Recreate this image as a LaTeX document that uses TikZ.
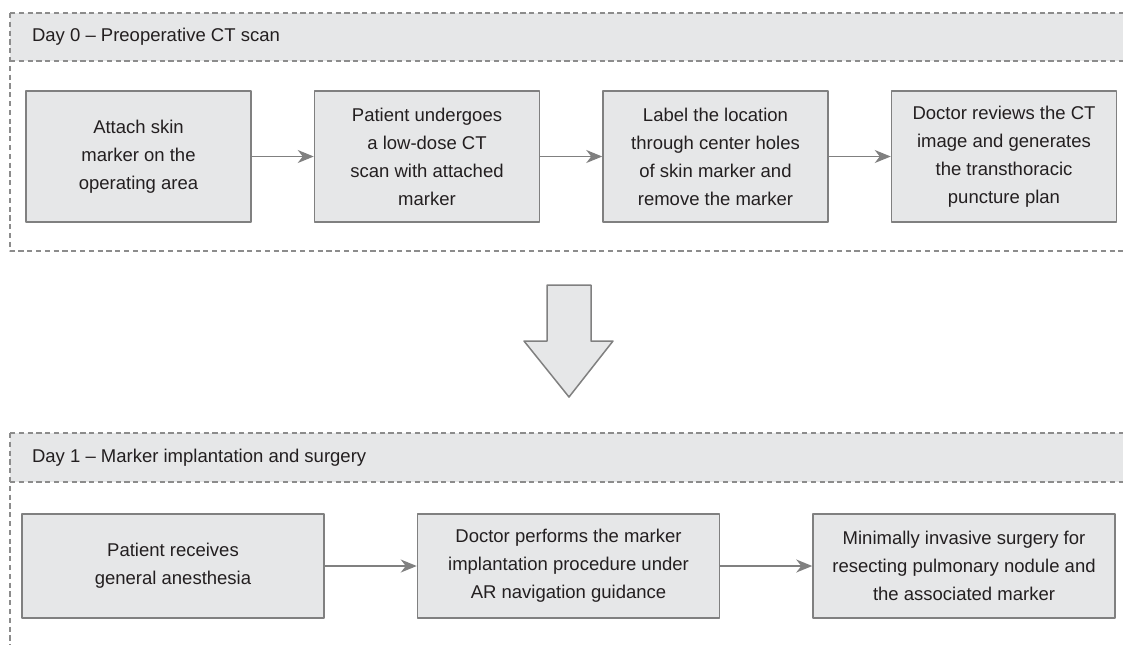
\documentclass[tikz,border=0pt]{standalone}
\usepackage{fontspec}
\setmainfont{Liberation Sans}
\usetikzlibrary{arrows.meta, positioning}
\definecolor{panelgray}{HTML}{E6E7E8}
\definecolor{edgegray}{HTML}{808080}
\definecolor{dashgray}{HTML}{8C8C8C}
\definecolor{inkgray}{HTML}{231F20}

\begin{document}
\begin{tikzpicture}[x=0.5pt, y=-0.5pt, line join=round,
    txt/.style={text=inkgray, font=\fontsize{9.25}{14}\selectfont},
    stepbox/.style={txt, draw=edgegray, fill=panelgray, line width=0.75pt, align=center, inner sep=0pt},
    topbox/.style={stepbox, minimum width=112.5pt, minimum height=65.5pt},
    lowbox/.style={stepbox, minimum width=151pt, minimum height=52pt},
    frame/.style={dashgray, line width=0.6pt, dash pattern=on 2.6pt off 1.8pt},
    flow/.style={edgegray, line width=0.75pt, -{Stealth[length=8pt, width=6.5pt, inset=2.5pt]}},
    bigarrow/.style={draw=edgegray, fill=panelgray, line width=0.75pt}]
  \useasboundingbox (0,0) rectangle (1123,645);

  % Day 0 panel
  \fill[panelgray] (10,13) rectangle (1123,61);
  \draw[frame] (10,13) -- (1123,13);
  \draw[frame] (10,61) -- (1123,61);
  \draw[frame] (10,13) -- (10,251) -- (1123,251);
  \node[txt, anchor=west] (day0) at (25,37) {Day 0 – Preoperative CT scan};

  \node[topbox] (t1) at (138.5,156.5) {Attach skin\\marker on the\\operating area};
  \node[topbox, right=31pt of t1] (t2) {Patient undergoes\\a low-dose CT\\scan with attached\\marker};
  \node[topbox, right=31pt of t2] (t3) {Label the location\\through center holes\\of skin marker and\\remove the marker};
  \node[topbox, right=31pt of t3] (t4) {Doctor reviews the CT\\image and generates\\the transthoracic\\puncture plan};
  \foreach \a/\b in {t1/t2, t2/t3, t3/t4}
    \draw[flow] (\a) -- (\b);

  % transition arrow
  \draw[bigarrow] (547,285) -- (591,285) -- (591,341) -- (613,341) -- (569,397)
    -- (524,341) -- (547,341) -- cycle;

  % Day 1 panel
  \fill[panelgray] (10,433) rectangle (1123,482);
  \draw[frame] (10,433) -- (1123,433);
  \draw[frame] (10,482) -- (1123,482);
  \draw[frame] (10,433) -- (10,645);
  \node[txt, anchor=west] (day1) at (25,457.5) {Day 1 – Marker implantation and surgery};

  \node[lowbox] (b1) at (173,566) {Patient receives\\general anesthesia};
  \node[lowbox, right=46pt of b1] (b2) {Doctor performs the marker\\implantation procedure under\\AR navigation guidance};
  \node[lowbox, right=46pt of b2] (b3) {Minimally invasive surgery for\\resecting pulmonary nodule and\\the associated marker};
  \foreach \a/\b in {b1/b2, b2/b3}
    \draw[flow] (\a) -- (\b);
\end{tikzpicture}
\end{document}
